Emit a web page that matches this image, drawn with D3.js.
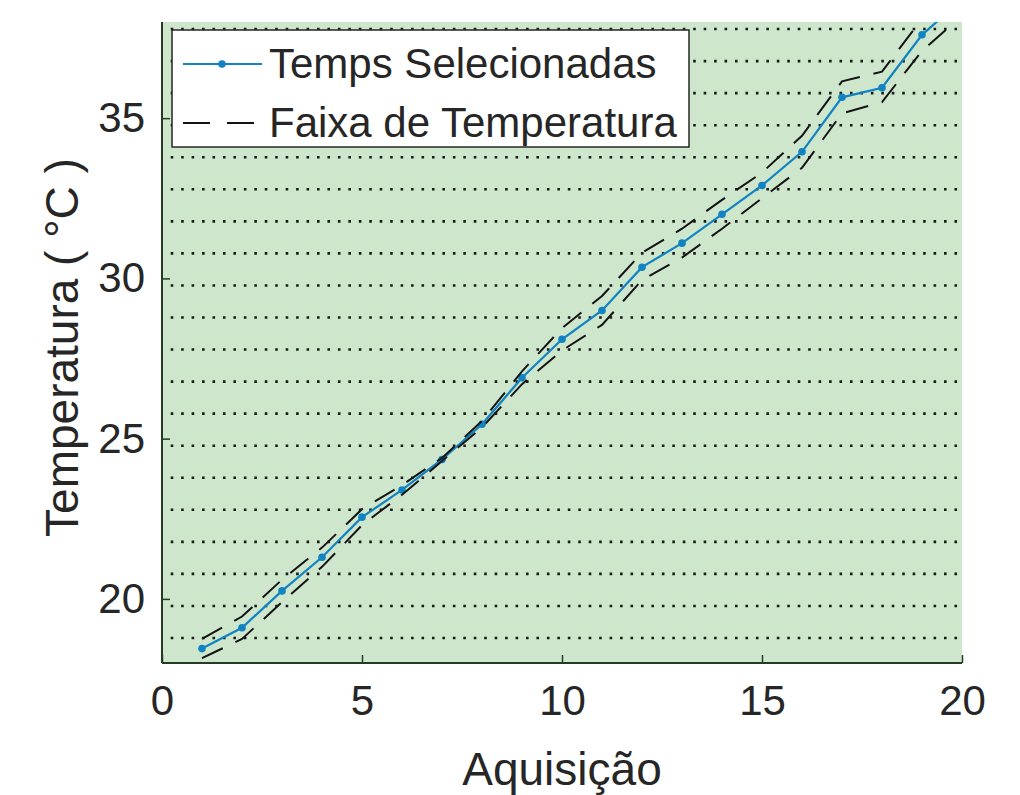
<!DOCTYPE html>
<html>
<head>
<meta charset="utf-8">
<script src="https://cdn.jsdelivr.net/npm/d3@7"></script>
<style>
  body { margin: 0; background: #fff; }
  text { font-family: "Liberation Sans", Arial, sans-serif; fill: #262626; }
</style>
</head>
<body>
<svg id="chart" width="1020" height="795"></svg>
<script>
// acquisition index and selected temperatures
var aquisicao = [1, 2, 3, 4, 5, 6, 7, 8, 9, 10, 11, 12, 13, 14, 15, 16, 17, 18, 19, 20];
var temps = [18.45, 19.1, 20.25, 21.3, 22.55, 23.4, 24.35, 25.45, 26.9, 28.1,
    29.0, 30.35, 31.1, 32.0, 32.9, 33.95, 35.65, 35.95, 37.6, 38.7];
// temperature band (upper / lower dashed lines)
var faixaSup = [18.75, 19.45, 20.6, 21.6, 22.8, 23.55, 24.4, 25.55, 27.1, 28.45,
    29.45, 30.8, 31.55, 32.45, 33.3, 34.45, 36.15, 36.45, 38.1, 39.2];
var faixaInf = [18.15, 18.75, 19.9, 21.0, 22.3, 23.25, 24.3, 25.35, 26.7, 27.75,
    28.55, 29.95, 30.65, 31.55, 32.5, 33.45, 35.15, 35.5, 37.1, 38.2];
// horizontal dotted reference lines
var gridLevels = [18.78, 19.78, 20.78, 21.78, 22.78, 23.78, 24.78, 25.78, 26.78, 27.78,
    28.78, 29.78, 30.78, 31.78, 32.78, 33.78, 34.78, 35.78, 36.78, 37.78];
var xTicks = [0, 5, 10, 15, 20];
var yTicks = [20, 25, 30, 35];
var legendLabels = ["Temps Selecionadas", "Faixa de Temperatura"];

var margin = {top: 22, right: 58, bottom: 132, left: 162};
var width = 1020, height = 795;
var w = width - margin.left - margin.right;   // 800
var h = height - margin.top - margin.bottom;  // 641

var svg = d3.select("#chart");
var g = svg.append("g")
    .attr("transform", "translate(" + margin.left + "," + margin.top + ")");

var x = d3.scaleLinear().domain([0, 20]).range([0, w]);
var y = d3.scaleLinear().domain([18, 38]).range([h, 0]);

// green plot background
g.append("rect")
    .attr("width", w).attr("height", h)
    .attr("fill", "#cde6cc");

g.append("clipPath").attr("id", "clip")
    .append("rect").attr("width", w).attr("height", h);

// dotted lines
g.selectAll(".grid")
    .data(gridLevels)
    .enter().append("line")
    .attr("class", "grid")
    .attr("x1", 8.7).attr("x2", w)
    .attr("y1", function(d) { return y(d); })
    .attr("y2", function(d) { return y(d); })
    .attr("stroke", "#1a1a1a")
    .attr("stroke-width", 2.6)
    .attr("stroke-dasharray", "2.6 7.85");

var plot = g.append("g").attr("clip-path", "url(#clip)");

var lineOf = function(vals) {
    return d3.line()
        .x(function(d, i) { return x(aquisicao[i]); })
        .y(function(d) { return y(d); })(vals);
};

// selected temps
plot.append("path")
    .attr("d", lineOf(temps))
    .attr("fill", "none")
    .attr("stroke", "#1283c2")
    .attr("stroke-width", 2.2);

plot.selectAll(".pt")
    .data(temps)
    .enter().append("circle")
    .attr("class", "pt")
    .attr("cx", function(d, i) { return x(aquisicao[i]); })
    .attr("cy", function(d) { return y(d); })
    .attr("r", 3.8)
    .attr("fill", "#1283c2");

// band
[faixaSup, faixaInf].forEach(function(vals) {
    plot.append("path")
        .attr("d", lineOf(vals))
        .attr("fill", "none")
        .attr("stroke", "#141414")
        .attr("stroke-width", 2)
        .attr("stroke-dasharray", "23 14");
});

// axes
var axisColor = "#243c24";
var xAxis = d3.axisBottom(x).tickValues(xTicks).tickSize(-8).tickPadding(22).tickFormat(d3.format("d"));
var yAxis = d3.axisLeft(y).tickValues(yTicks).tickSize(-8).tickPadding(17).tickFormat(d3.format("d"));

var gx = g.append("g")
    .attr("transform", "translate(0," + h + ")")
    .call(xAxis);
var gy = g.append("g").call(yAxis);

[gx, gy].forEach(function(a) {
    a.select(".domain").attr("stroke", axisColor).attr("stroke-width", 2)
        .attr("d", a === gx ? "M0,0H" + w : "M0,0V" + h);
    a.selectAll(".tick line").attr("stroke", axisColor).attr("stroke-width", 1.5);
    a.selectAll(".tick text").style("font-size", "42px").attr("fill", "#262626");
});
gx.selectAll(".tick text").attr("dy", "0.71em");

// axis titles
svg.append("text")
    .attr("x", margin.left + w / 2)
    .attr("y", 785)
    .attr("text-anchor", "middle")
    .style("font-size", "46px")
    .text("Aquisição");

svg.append("text")
    .attr("transform", "translate(78," + (margin.top + h / 2 + 5) + ") rotate(-90)")
    .attr("text-anchor", "middle")
    .style("font-size", "46px")
    .text("Temperatura ( °C )");

// legend
var leg = svg.append("g");
leg.append("rect")
    .attr("x", 172).attr("y", 30)
    .attr("width", 517).attr("height", 117)
    .attr("fill", "#fff")
    .attr("stroke", "#262626")
    .attr("stroke-width", 1.5);

leg.append("line")
    .attr("x1", 183).attr("x2", 262).attr("y1", 64).attr("y2", 64)
    .attr("stroke", "#1283c2").attr("stroke-width", 2.2);
leg.append("circle")
    .attr("cx", 222).attr("cy", 64).attr("r", 3.8).attr("fill", "#1283c2");
leg.append("line")
    .attr("x1", 183).attr("x2", 262).attr("y1", 123).attr("y2", 123)
    .attr("stroke", "#141414").attr("stroke-width", 2)
    .attr("stroke-dasharray", "27 17");

leg.selectAll(".lt")
    .data(legendLabels)
    .enter().append("text")
    .attr("class", "lt")
    .attr("x", 269)
    .attr("y", function(d, i) { return 78 + i * 59; })
    .style("font-size", "42px")
    .text(function(d) { return d; });
</script>
</body>
</html>
